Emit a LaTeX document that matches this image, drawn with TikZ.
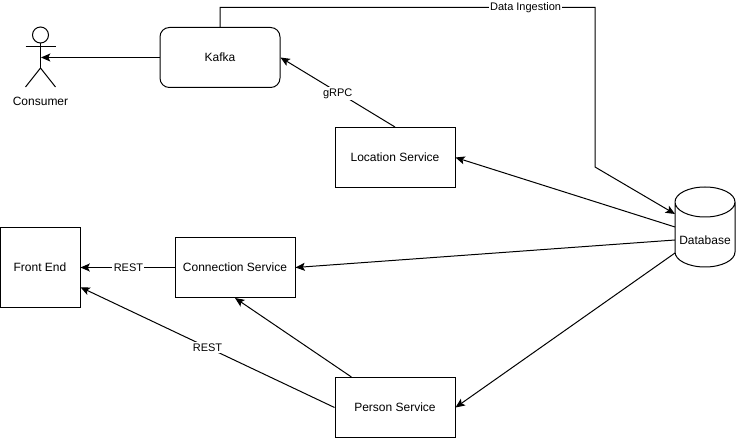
\documentclass[tikz,border=0pt]{standalone}
\usepackage{fontspec}
\setmainfont{Liberation Sans}
\usetikzlibrary{arrows.meta}
\tikzset{
	svcbox/.style={draw,minimum width=90pt,minimum height=45pt,inner sep=0pt},
	wire/.style={-{Stealth[length=7pt,width=6pt,inset=1.5pt]}},
	lbl/.style={fill=white,inner sep=1pt,font=\fontsize{8.25}{10}\selectfont}
}
\begin{document}
\begin{tikzpicture}[x=0.75pt,y=-0.75pt,font=\fontsize{9}{11}\selectfont,line width=0.75pt]
	\useasboundingbox (0,0) rectangle (736,438);
	
	\node[svcbox,rounded corners=7pt] (kafka) at (220,57.5) {Kafka};
	\node[svcbox] (location) at (395,157.5) {Location Service};
	\node[svcbox] (connection) at (235,267.5) {Connection Service};
	\node[svcbox] (person) at (395,407.5) {Person Service};
	\node[svcbox,minimum width=60pt,minimum height=60pt] (frontend) at (40,267.5) {Front End};
	
	% cylinder
	\draw (675,202) arc[x radius=30,y radius=15,start angle=180,end angle=-180]
		-- (675,252) arc[x radius=30,y radius=15,start angle=180,end angle=0] -- (735,202);
	\node (database) at (705,240) {Database};
	
	% actor
	\node[circle,draw,minimum size=12pt,inner sep=0pt] (head) at (40.5,35) {};
	\coordinate (hip) at (40.5,68);
	\coordinate (handl) at (25.5,47);
	\coordinate (handr) at (55.5,47);
	\coordinate (footl) at (25.5,87);
	\coordinate (footr) at (55.5,87);
	\coordinate (consumer) at (41,57.5);
	\draw (head) -- (hip);
	\draw (handl) -- (handr);
	\draw (footl) -- (hip) -- (footr);
	\node (consumerlbl) at (40.5,101) {Consumer};
	
	% database side
	\coordinate (dbin) at (675,214);
	\coordinate (dbloc) at (675,227);
	\coordinate (dbcon) at (675,240);
	\coordinate (dbper) at (675,253);
	\coordinate (up) at (220,7.5);
	\coordinate (over) at (595,7.5);
	\coordinate (turn) at (595,167);
	
	\draw[wire] (kafka.west) -- (consumer);
	\draw[wire] (location.north) -- node[lbl,pos=0.5,yshift=-1pt]{gRPC} (kafka.east);
	\draw[wire] (kafka.north) -- (up) -- node[lbl,pos=0.815]{Data Ingestion} (over) -- (turn) -- (dbin);
	\draw[wire] (dbloc) -- (location.east);
	\draw[wire] (dbcon) -- (connection.east);
	\draw[wire] (dbper) -- (person.east);
	\draw[wire] (connection.west) -- node[lbl,pos=0.49]{REST} (frontend.east);
	\draw[wire] (person.west) -- node[lbl,pos=0.5]{REST} (frontend.-26.565);
	\draw[wire] (person.145) -- (connection.south);
	
\end{tikzpicture}
\end{document}
